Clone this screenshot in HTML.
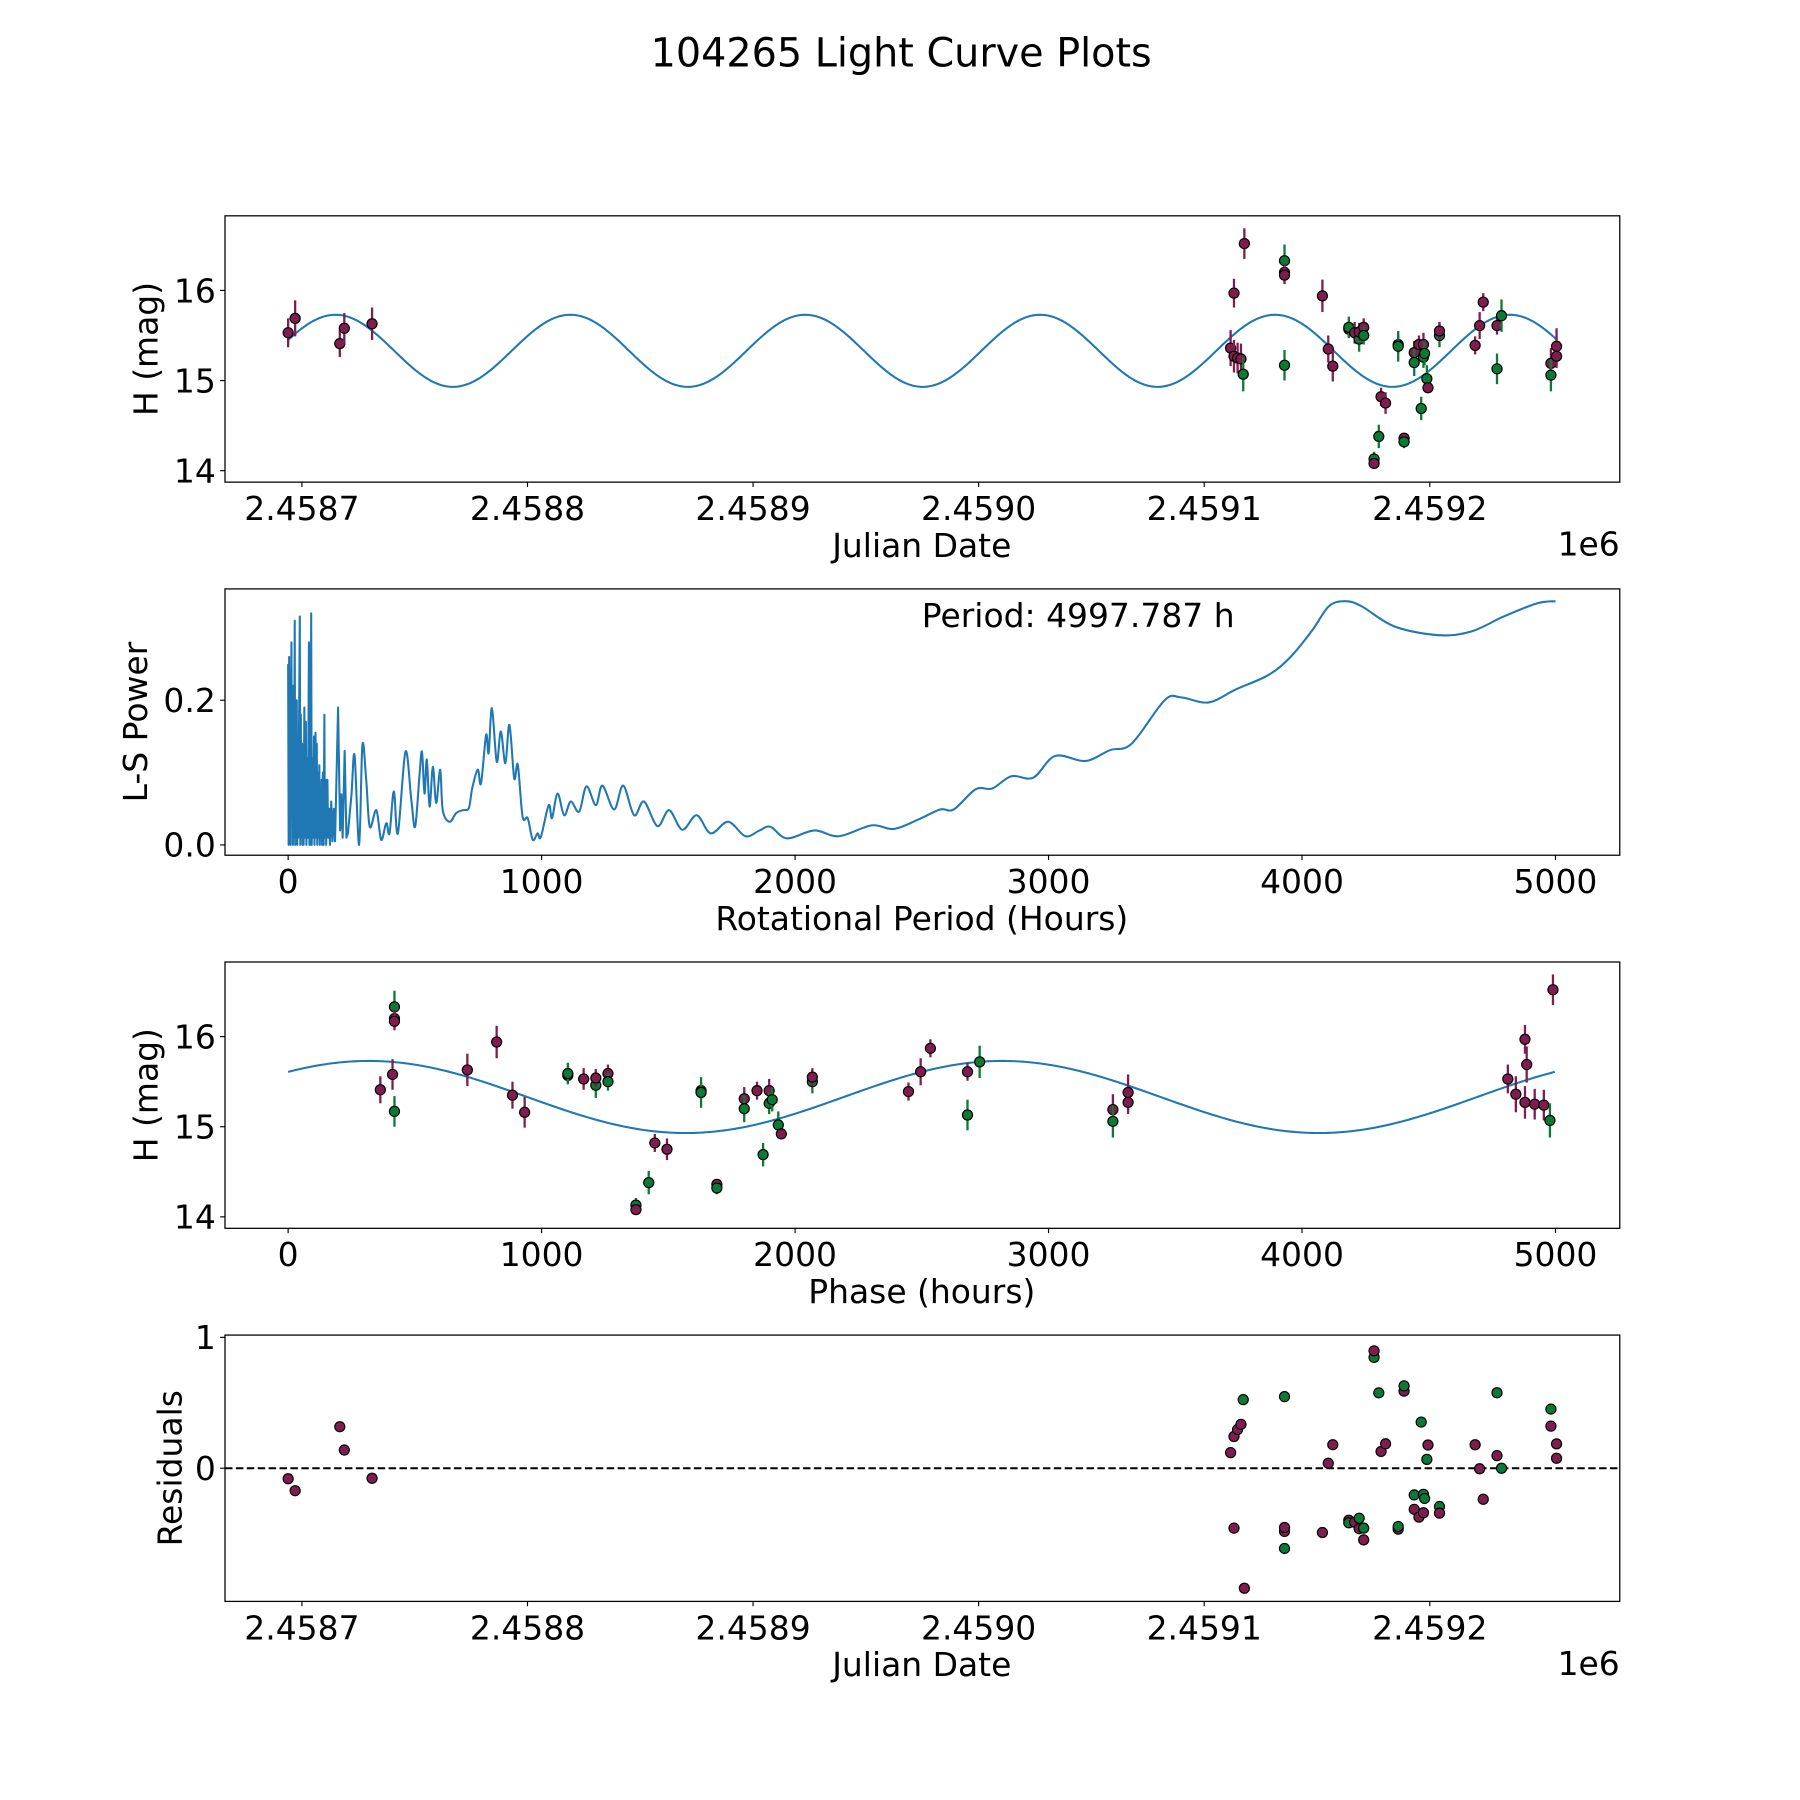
<!DOCTYPE html>
<html><head><meta charset="utf-8"><style>
html,body{margin:0;padding:0;background:#fff}
svg{display:block}
text{font-family:"DejaVu Sans","Liberation Sans",sans-serif;fill:#000}
</style></head><body>
<svg id="fig" xmlns="http://www.w3.org/2000/svg" width="1800" height="1800" viewBox="0 0 1568 1568">
<rect x="0" y="0" width="1568" height="1568" fill="#fff"/>
<text x="785" y="58" font-size="34.6" text-anchor="middle">104265 Light Curve Plots</text>
<g id="g1"></g>
<g id="g2"></g>
<g id="g3"></g>
<g id="g4"></g>
</svg>
<script>
const jdEpoch = 2458693.9;
const jdOffsets = [0,3.1,22.9,24.9,37.2,419.3,423.9,417.8,419.3,420.9,422.4,423.4,441.7,441.7,441.7,441.7,458.5,461.1,463.1,470.2,470.2,472.8,474.8,474.8,476.8,476.8,481.4,481.4,483.5,484.5,486.5,492.1,492.1,494.7,494.7,499.2,499.2,501.3,502.3,503.3,503.3,504.8,505.3,503.8,510.4,510.4,526.2,528.2,529.8,535.9,535.9,537.9,559.8,559.8,562.3,562.3];
const mags = [15.53,15.69,15.41,15.58,15.63,15.97,16.52,15.36,15.27,15.25,15.24,15.07,16.33,16.20,16.17,15.17,15.94,15.35,15.16,15.57,15.59,15.53,15.46,15.54,15.59,15.50,14.13,14.08,14.38,14.82,14.75,15.40,15.38,14.36,14.32,15.31,15.20,15.40,14.69,15.40,15.26,15.02,14.92,15.30,15.50,15.55,15.39,15.61,15.87,15.61,15.13,15.72,15.19,15.06,15.38,15.27];
const bands = ['p','p','p','p','p','p','p','p','p','p','p','g','g','p','p','g','p','p','p','p','g','p','g','p','p','g','g','p','g','p','p','p','g','p','g','p','g','p','g','p','g','g','p','g','g','p','p','p','p','p','g','g','p','g','p','p'];
const magErr = [0.16,0.2,0.15,0.17,0.18,0.16,0.17,0.2,0.18,0.17,0.17,0.19,0.18,0.1,0.1,0.17,0.18,0.15,0.17,0.08,0.12,0.12,0.14,0.1,0.1,0.1,0.08,0.05,0.13,0.1,0.12,0.1,0.17,0.06,0.07,0.13,0.15,0.1,0.13,0.13,0.12,0.15,0.06,0.13,0.13,0.1,0.1,0.15,0.1,0.1,0.17,0.18,0.17,0.18,0.2,0.13];
const modelMean = 15.33, modelAmp = 0.40, modelPeriodDays = 104.12, modelPeakOffset = 21.0;
const bestPeriodH = 4997.787, phaseShiftH = 4812;
const lsPeriods = [0,2,4,6,8,10,13,15,17,19,21,23,26,28,30,32,34,36,38,40,46,48,50,52,55,57,59,61,64,66,70,72,76,78,82,84,86,88,91,93,96,98,102,104,108,110,113,115,118,120,123,125,128,130,132,134,137,140,143,145,148,150,155,158,162,165,170,175,180,185,197,205,210,215,223,230,236,250,262,280,293,308,322,348,367,387,400,417,433,463,486,501,518,528,538,547,558,571,584,600,610,637,663,689,713,726,748,761,781,791,804,823,839,857,873,892,906,925,945,965,984,997,1028,1041,1063,1089,1115,1148,1177,1214,1240,1286,1322,1365,1404,1457,1503,1555,1612,1667,1736,1804,1860,1903,1968,2076,2173,2302,2389,2486,2572,2626,2713,2778,2853,2940,3026,3145,3242,3328,3458,3523,3631,3739,3868,3955,4041,4106,4171,4235,4365,4538,4667,4797,4927,5000];
const lsPower = [0.25,0,0.26,0.02,0.24,0,0.28,0.05,0.2,0,0.22,0.01,0.31,0,0.15,0.02,0.2,0,0.13,0.01,0.316,0,0.18,0.01,0.14,0,0.12,0,0.19,0.01,0.17,0,0.12,0.01,0.28,0,0.2,0,0.32,0,0.12,0.01,0.15,0,0.155,0.01,0.14,0,0.1,0.01,0.11,0,0.08,0.01,0.09,0,0.1,0,0.18,0.01,0.09,0,0.09,0.01,0.05,0,0.06,0.005,0.05,0.005,0.19,0.02,0.07,0.01,0.13,0.01,0.016,0.07,0.124,0,0.138,0.09,0.025,0.048,0.007,0.03,0.016,0.074,0.016,0.129,0.062,0.025,0.095,0.129,0.071,0.118,0.053,0.108,0.058,0.104,0.048,0.032,0.044,0.048,0.051,0.078,0.104,0.085,0.152,0.127,0.189,0.115,0.157,0.113,0.166,0.092,0.111,0.039,0.037,0.007,0.016,0.011,0.055,0.037,0.071,0.041,0.06,0.046,0.081,0.055,0.082,0.049,0.082,0.041,0.06,0.026,0.048,0.021,0.041,0.016,0.032,0.012,0.02,0.025,0.009,0.02,0.012,0.027,0.022,0.035,0.049,0.049,0.077,0.078,0.095,0.093,0.123,0.116,0.131,0.140,0.20,0.204,0.197,0.215,0.235,0.26,0.297,0.33,0.337,0.33,0.302,0.29,0.295,0.316,0.334,0.337];
const jdTicks = [2458700,2458800,2458900,2459000,2459100,2459200];
const jdTickLabels = ['2.4587','2.4588','2.4589','2.4590','2.4591','2.4592'];
const magTicks = [16,15,14];
const hourTicks = [0,1000,2000,3000,4000,5000];
const powerTicks = [0.0,0.2];
const powerTickLabels = ['0.0','0.2'];
const residTicks = [1,0];

const NS='http://www.w3.org/2000/svg';
const L=196,R=1411,H=232;
const tops=[188,513,838,1163];
const COL={p:'#7f1d4f',g:'#0b7a36'};
const TF=28.7;
function el(tag,attrs,parent){const e=document.createElementNS(NS,tag);for(const k in attrs)e.setAttribute(k,attrs[k]);parent.appendChild(e);return e;}
const xJD=jd=>263+(jd-2458700)*1.965;
const yMag1=m=>253+(16-m)*78.5;
const xHr=h=>251+h*0.2208;
const yPow=p=>736-p*630;
const yMag3=m=>903+(16-m)*78.5;
const yRes=r=>1279-r*114;
function model(off){return modelMean+modelAmp*Math.cos(2*Math.PI*(off-modelPeakOffset)/modelPeriodDays);}
function phaseOf(off){return (off*24+phaseShiftH)%bestPeriodH;}

function frame(g,top){const r=el('rect',{x:L,y:top,width:R-L,height:H,fill:'none',stroke:'#000','stroke-width':1.1},g);}
function xticks(g,top,vals,labels,fx,name){vals.forEach((v,i)=>{const x=fx(v);const t=el('line',{x1:x,x2:x,y1:top+H,y2:top+H+4.2,stroke:'#000','stroke-width':1},g);const tx=el('text',{x:x,y:top+H+33,'font-size':TF,'text-anchor':'middle'},g);tx.textContent=labels[i];});}
function yticks(g,vals,labels,fy,name){vals.forEach((v,i)=>{const y=fy(v);const t=el('line',{x1:L-4.2,x2:L,y1:y,y2:y,stroke:'#000','stroke-width':1},g);const tx=el('text',{x:L-8,y:y+10.3,'font-size':TF,'text-anchor':'end'},g);tx.textContent=labels[i];});}
function xlabel(g,top,txt,name){const t=el('text',{x:803,y:top+H+65,'font-size':28.7,'text-anchor':'middle'},g);t.textContent=txt;}
function ylabel(g,top,x,txt,name){const cy=top+H/2;const t=el('text',{x:x,y:cy,'font-size':28.7,'text-anchor':'middle',transform:`rotate(-90 ${x} ${cy})`},g);t.textContent=txt;}
function offset(g,top){const t=el('text',{x:R,y:top+H+64,'font-size':TF,'text-anchor':'end'},g);t.textContent='1e6';}
function clip(id,top){const d=el('clipPath',{id:id},document.getElementById('fig'));el('rect',{x:L,y:top,width:R-L,height:H},d);}
function curve(g,pts,name,cp){const p=el('polyline',{points:pts.map(a=>a[0].toFixed(2)+','+a[1].toFixed(2)).join(' '),fill:'none',stroke:'#1f77b4','stroke-width':1.8,'stroke-linejoin':'round','clip-path':cp?`url(#${cp})`:''},g);}
function smoothPath(pts,startSmooth){let d='M'+pts[0][0].toFixed(2)+','+pts[0][1].toFixed(2);
 for(let i=1;i<pts.length;i++){const p1=pts[i-1],p2=pts[i];
  if(i-1<startSmooth){d+=' L'+p2[0].toFixed(2)+','+p2[1].toFixed(2);continue;}
  const p0=pts[Math.max(i-2,0)],p3=pts[Math.min(i+1,pts.length-1)];
  const c1=[p1[0]+(p2[0]-p0[0])/6,p1[1]+(p2[1]-p0[1])/6],c2=[p2[0]-(p3[0]-p1[0])/6,p2[1]-(p3[1]-p1[1])/6];
  d+=` C${c1[0].toFixed(2)},${c1[1].toFixed(2)} ${c2[0].toFixed(2)},${c2[1].toFixed(2)} ${p2[0].toFixed(2)},${p2[1].toFixed(2)}`;}
 return d;}
function point(g,x,y,c,err,name){if(err!=null){const e=el('line',{x1:x,x2:x,y1:y-err,y2:y+err,stroke:c,'stroke-width':2},g);}const d=el('circle',{cx:x,cy:y,r:4.4,fill:c,stroke:'#000','stroke-width':1},g);}

const minOff=Math.min(...jdOffsets),maxOff=Math.max(...jdOffsets);
(function(){const g=document.getElementById('g1');const top=tops[0];clip('c1',top);
 const pts=[];for(let i=0;i<=600;i++){const o=minOff+(maxOff-minOff)*i/600;pts.push([xJD(jdEpoch+o),yMag1(model(o))]);}
 curve(g,pts,'model-curve','c1');
 jdOffsets.forEach((o,i)=>point(g,xJD(jdEpoch+o),yMag1(mags[i]),COL[bands[i]],magErr[i]*78.5,'observation-point'));
 frame(g,top);xticks(g,top,jdTicks,jdTickLabels,xJD,'x-axis');yticks(g,magTicks,magTicks.map(String),yMag1,'y-axis');
 xlabel(g,top,'Julian Date','x-axis-title');ylabel(g,top,137,'H (mag)','y-axis-title');offset(g,top);})();
(function(){const g=document.getElementById('g2');const top=tops[1];clip('c2',top);
 const pts=lsPeriods.map((p,i)=>[xHr(p),yPow(lsPower[i])]);
 let startSmooth=lsPeriods.findIndex(p=>p>=240);
 const path=el('path',{d:smoothPath(pts,startSmooth),fill:'none',stroke:'#1f77b4','stroke-width':1.8,'stroke-linejoin':'round','clip-path':'url(#c2)'},g);
 
 
 frame(g,top);xticks(g,top,hourTicks,hourTicks.map(String),xHr,'x-axis');yticks(g,powerTicks,powerTickLabels,yPow,'y-axis');
 xlabel(g,top,'Rotational Period (Hours)','x-axis-title');ylabel(g,top,128,'L-S Power','y-axis-title');
 const t=el('text',{x:803,y:546,'font-size':28.7},g);t.textContent='Period: '+bestPeriodH.toFixed(3)+' h';})();
(function(){const g=document.getElementById('g3');const top=tops[2];clip('c3',top);
 const pts=[];for(let i=0;i<=500;i++){const ph=bestPeriodH*i/500;pts.push([xHr(ph),yMag3(model((ph-phaseShiftH)/24))]);}
 curve(g,pts,'phase-model-curve','c3');
 jdOffsets.forEach((o,i)=>point(g,xHr(phaseOf(o)),yMag3(mags[i]),COL[bands[i]],magErr[i]*78.5,'phased-point'));
 frame(g,top);xticks(g,top,hourTicks,hourTicks.map(String),xHr,'x-axis');yticks(g,magTicks,magTicks.map(String),yMag3,'y-axis');
 xlabel(g,top,'Phase (hours)','x-axis-title');ylabel(g,top,137,'H (mag)','y-axis-title');})();
(function(){const g=document.getElementById('g4');const top=tops[3];clip('c4',top);
 const z=el('line',{x1:L,x2:R,y1:yRes(0),y2:yRes(0),stroke:'#000','stroke-width':1.8,'stroke-dasharray':'6.5,3'},g);
 jdOffsets.forEach((o,i)=>point(g,xJD(jdEpoch+o),yRes(model(o)-mags[i]),COL[bands[i]],null,'residual-point'));
 frame(g,top);xticks(g,top,jdTicks,jdTickLabels,xJD,'x-axis');yticks(g,residTicks,residTicks.map(String),yRes,'y-axis');
 xlabel(g,top,'Julian Date','x-axis-title');ylabel(g,top,158,'Residuals','y-axis-title');offset(g,top);})();
</script>
</body></html>
